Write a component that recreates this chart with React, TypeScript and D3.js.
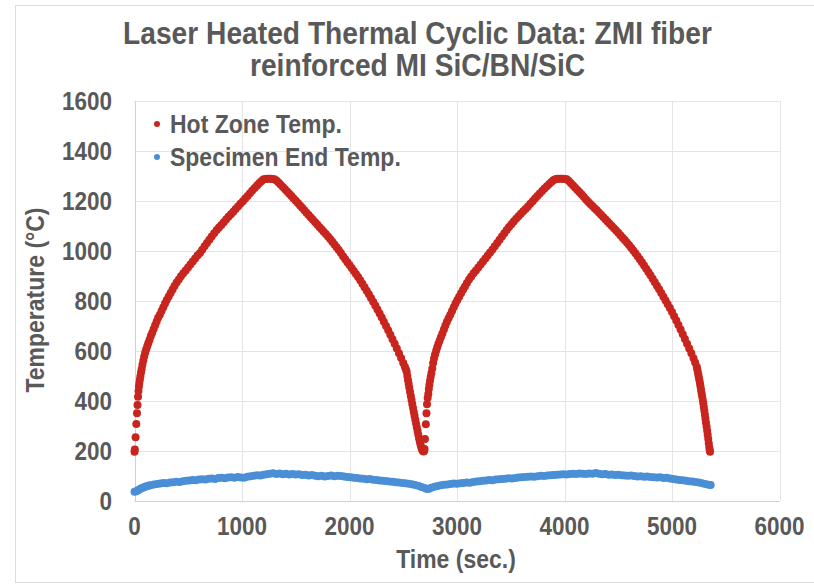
import React from "react";
import * as d3 from "d3";

const titleLines = ["Laser Heated Thermal Cyclic Data: ZMI fiber", "reinforced MI SiC/BN/SiC"];
const xTicks = [0, 1000, 2000, 3000, 4000, 5000, 6000];
const yTicks = [0, 200, 400, 600, 800, 1000, 1200, 1400, 1600];
const seriesNames = ["Hot Zone Temp.", "Specimen End Temp."];
const xLabel = "Time (sec.)";
const yLabel = "Temperature (°C)";

// Hot zone temperature readings [time s, temp °C]
const hotZone: [number, number][] = [
  [0,197],[3,206],[10,255],[17,308],[23,351],[28,384],[33,417],[37,440],[41,458],[45,472],[50,486],[55,500],[61,515],[67,528],[74,545],[82,562],[90,578],[99,593],[109,607],[119,620],[129,632],[140,645],[152,660],[165,673],[178,688],[192,703],[206,718],[220,733],[236,745],[252,760],[268,775],[284,790],[300,804],[318,818],[336,832],[354,846],[372,860],[392,874],[412,886],[432,899],[454,911],[476,922],[498,934],[520,946],[542,958],[564,970],[586,982],[609,992],[630,1005],[652,1019],[674,1032],[696,1045],[718,1058],[741,1071],[765,1084],[786,1094],[808,1104],[830,1115],[852,1126],[874,1137],[897,1147],[919,1157],[941,1168],[963,1178],[985,1189],[1008,1199],[1030,1210],[1052,1220],[1074,1231],[1096,1242],[1118,1252],[1140,1262],[1160,1271],[1180,1279],[1198,1286],[1215,1288],[1232,1289],[1250,1289],[1268,1289],[1285,1288],[1302,1287],
  [1320,1282],[1340,1274],[1360,1265],[1380,1256],[1400,1247],[1420,1238],[1440,1229],[1460,1220],[1480,1210],[1500,1201],[1520,1192],[1540,1182],[1560,1173],[1580,1163],[1600,1153],[1620,1144],[1640,1134],[1660,1125],[1680,1115],[1700,1106],[1720,1096],[1740,1087],[1760,1077],[1780,1068],[1800,1058],[1820,1048],[1840,1037],[1860,1026],[1880,1015],[1900,1004],[1920,992],[1940,979],[1960,967],[1980,955],[2000,944],[2020,932],[2040,920],[2060,908],[2080,896],[2100,883],[2120,869],[2140,855],[2160,841],[2180,827],[2200,812],[2220,797],[2240,782],[2260,766],[2280,750],[2300,734],[2320,717],[2340,700],[2360,683],[2380,665],[2400,647],[2420,629],[2440,610],[2460,591],[2480,572],[2500,552],[2515,537],[2525,526],
  [2532,517],[2538,500],[2544,484],[2550,469],[2556,454],[2563,437],[2570,421],[2577,405],[2584,388],[2591,372],[2598,356],[2605,341],[2612,325],[2619,310],[2626,295],[2633,280],[2640,265],[2647,250],[2654,237],[2661,225],[2668,214],[2675,205],[2682,200],[2688,198],
  [2695,200],[2698,208],[2702,248],[2710,307],[2716,351],[2721,387],[2727,412],[2733,428],[2738,448],[2743,465],[2749,481],[2755,496],[2762,512],[2770,530],[2778,552],[2786,570],[2796,586],[2806,601],[2816,615],[2826,628],[2838,641],[2850,655],[2864,670],[2878,686],[2892,702],[2906,717],[2922,731],[2938,745],[2954,760],[2970,775],[2986,790],[3003,804],[3020,817],[3038,831],[3056,845],[3074,858],[3092,872],[3112,886],[3132,898],[3154,911],[3176,922],[3198,934],[3220,946],[3242,958],[3264,970],[3286,982],[3308,994],[3330,1006],[3352,1019],[3374,1032],[3396,1045],[3418,1058],[3440,1071],[3462,1084],[3484,1096],[3506,1107],[3528,1118],[3550,1129],[3572,1139],[3594,1149],[3616,1159],[3638,1168],[3660,1178],[3682,1189],[3704,1199],[3726,1210],[3748,1220],[3770,1230],[3792,1240],[3814,1250],[3836,1259],[3858,1268],[3878,1276],[3896,1283],[3914,1287],[3932,1289],[3950,1289],[3968,1289],[3986,1289],[4004,1288],[4021,1287],
  [4040,1280],[4060,1271],[4080,1262],[4100,1253],[4120,1244],[4140,1235],[4160,1226],[4180,1216],[4200,1206],[4220,1197],[4240,1188],[4260,1180],[4280,1171],[4300,1163],[4320,1154],[4340,1145],[4360,1136],[4380,1127],[4400,1118],[4420,1109],[4440,1100],[4460,1091],[4480,1082],[4500,1073],[4520,1063],[4540,1053],[4560,1044],[4580,1034],[4600,1024],[4620,1013],[4640,1002],[4660,991],[4680,979],[4700,967],[4720,955],[4740,942],[4760,929],[4780,916],[4800,903],[4820,889],[4840,875],[4860,861],[4880,847],[4900,832],[4920,817],[4940,802],[4960,787],[4980,772],[5000,756],[5020,739],[5040,722],[5060,704],[5080,686],[5100,667],[5120,648],[5140,629],[5160,610],[5180,591],[5200,571],[5215,554],
  [5230,537],[5235,527],[5240,516],[5245,505],[5250,494],[5255,483],[5260,471],[5265,458],[5270,445],[5275,432],[5280,419],[5286,405],[5291,391],[5296,376],[5301,361],[5306,345],[5311,329],[5316,313],[5322,297],[5327,281],[5332,265],[5337,248],[5342,231],[5347,214],[5351,203],[5354,197]
];

// Specimen end temperature readings [time s, temp °C]
const specimenEnd: [number, number][] = [
  [0,37],[15,39],[30,42],[45,46],[60,50],[75,53],[90,55],[105,58],[120,60],[135,62],[150,63],[180,66],[210,68],[240,70],[270,72],[300,71],[330,74],[360,75],[390,77],[420,76],[450,79],[480,81],[510,82],[540,84],[570,83],[600,86],[630,87],[660,86],[690,89],[720,90],[750,88],[780,92],[810,93],[840,91],[870,94],[900,95],[930,93],[960,96],[990,94],[1020,93],[1050,97],[1080,99],[1110,101],[1140,103],[1170,102],[1200,105],[1230,107],[1260,109],[1290,111],[1320,108],[1350,110],[1380,107],[1410,109],[1440,106],[1470,108],[1500,106],[1530,107],[1560,104],[1590,105],[1620,102],[1650,104],[1680,101],[1710,99],[1740,101],[1770,98],[1800,100],[1830,102],[1860,99],[1890,101],[1920,100],[1950,98],[1980,96],[2010,95],[2040,93],[2070,92],[2100,90],[2130,89],[2160,87],[2190,88],[2220,85],[2250,84],[2280,82],[2310,81],[2340,80],[2370,78],[2400,77],[2430,75],[2460,74],[2490,72],[2520,71],[2550,69],[2580,67],[2610,64],[2640,61],[2670,56],[2700,52],[2720,48],[2740,49],[2760,53],[2790,57],[2820,60],[2850,63],[2880,65],[2910,66],[2940,68],[2970,70],[3000,69],[3030,71],[3060,72],[3090,74],[3120,73],[3150,76],[3180,78],[3210,79],[3240,81],[3270,82],[3300,84],[3330,83],[3360,86],[3390,87],[3420,88],[3450,89],[3480,91],[3510,90],[3540,92],[3570,94],[3600,95],[3630,96],[3660,97],[3690,98],[3720,97],[3750,99],[3780,101],[3810,100],[3840,102],[3870,103],[3900,104],[3930,105],[3960,106],[3990,107],[4020,106],[4050,108],[4080,109],[4110,108],[4140,110],[4170,109],[4200,108],[4230,110],[4260,109],[4290,112],[4320,109],[4350,107],[4380,108],[4410,105],[4440,106],[4470,104],[4500,105],[4530,103],[4560,102],[4590,101],[4620,102],[4650,100],[4680,98],[4710,99],[4740,97],[4770,98],[4800,96],[4830,95],[4860,94],[4890,95],[4920,92],[4950,93],[4980,90],[5010,88],[5040,86],[5070,84],[5100,83],[5130,81],[5160,79],[5190,78],[5220,76],[5250,74],[5280,71],[5310,68],[5340,65],[5360,64]
];

const W = 814;
const H = 584;
const HOT = "#c8251e";
const SPEC = "#4a8fd6";
const TEXT = "#595959";
const FONT = "'Liberation Sans', Arial, sans-serif";
const VS = 1.12; // vertical stretch of lettering

function T(props: { x: number; y: number; anchor?: string; size: number; children: React.ReactNode; rotate?: boolean; dy?: string }) {
  const { x, y, anchor = "start", size, children, rotate, dy } = props;
  const tr = rotate
    ? `translate(${x},${y}) rotate(-90) scale(1,${VS})`
    : `translate(${x},${y}) scale(1,${VS})`;
  return (
    <text transform={tr} x={0} y={0} dy={dy} textAnchor={anchor} fontSize={size} fontWeight="bold" fill={TEXT}>
      {children}
    </text>
  );
}

export default function App() {
  const x = d3.scaleLinear().domain([0, 6000]).range([134.5, 779.5]);
  const y = d3.scaleLinear().domain([0, 1600]).range([501, 101]);
  const [x0, x1] = x.range();
  const [y0, y1] = y.range();

  return (
    <svg width={W} height={H} style={{ position: "absolute", left: 0, top: 0, background: "#fff" }} fontFamily={FONT}>
      <rect x={0} y={0} width={W} height={H} fill="#fff" />
      <rect x={15.5} y={5.5} width={W} height={577} fill="none" stroke="#dcdcdc" strokeWidth={1} />
      {titleLines.map((t, i) => (
        <T key={t} x={417.5} y={44 + i * 32} anchor="middle" size={28.2}>
          {t}
        </T>
      ))}
      {/* grid */}
      {yTicks.map((v) => (
        <line key={"gy" + v} x1={x0} x2={x1} y1={Math.round(y(v)) + 0.5} y2={Math.round(y(v)) + 0.5} stroke={v === 0 ? "#d0d0d0" : "#e4e4e4"} strokeWidth={1} />
      ))}
      {xTicks.map((v) => (
        <line key={"gx" + v} y1={y0} y2={y1} x1={Math.round(x(v)) + 0.5} x2={Math.round(x(v)) + 0.5} stroke={v === 0 ? "#d0d0d0" : "#e4e4e4"} strokeWidth={1} />
      ))}
      {/* tick labels */}
      {yTicks.map((v) => (
        <T key={"ly" + v} x={112} y={y(v)} dy="0.35em" anchor="end" size={22.5}>
          {v}
        </T>
      ))}
      {xTicks.map((v) => (
        <T key={"lx" + v} x={x(v)} y={535} anchor="middle" size={22.5}>
          {v}
        </T>
      ))}
      <T x={456} y={568} anchor="middle" size={23}>
        {xLabel}
      </T>
      <T x={44} y={300} anchor="middle" size={23} rotate>
        {yLabel}
      </T>
      {/* series */}
      <g fill={SPEC}>
        {specimenEnd.map(([t, v], i) => (
          <circle key={"s" + i} cx={x(t)} cy={y(v)} r={4} />
        ))}
      </g>
      <g fill={HOT}>
        {hotZone.map(([t, v], i) => (
          <circle key={"h" + i} cx={x(t)} cy={y(v)} r={4} />
        ))}
      </g>
      {/* legend */}
      {seriesNames.map((n, i) => (
        <g key={n}>
          <circle cx={157} cy={124 + i * 33} r={3} fill={i === 0 ? HOT : SPEC} />
          <T x={170} y={124 + i * 33} dy="0.35em" size={23}>
            {n}
          </T>
        </g>
      ))}
    </svg>
  );
}
